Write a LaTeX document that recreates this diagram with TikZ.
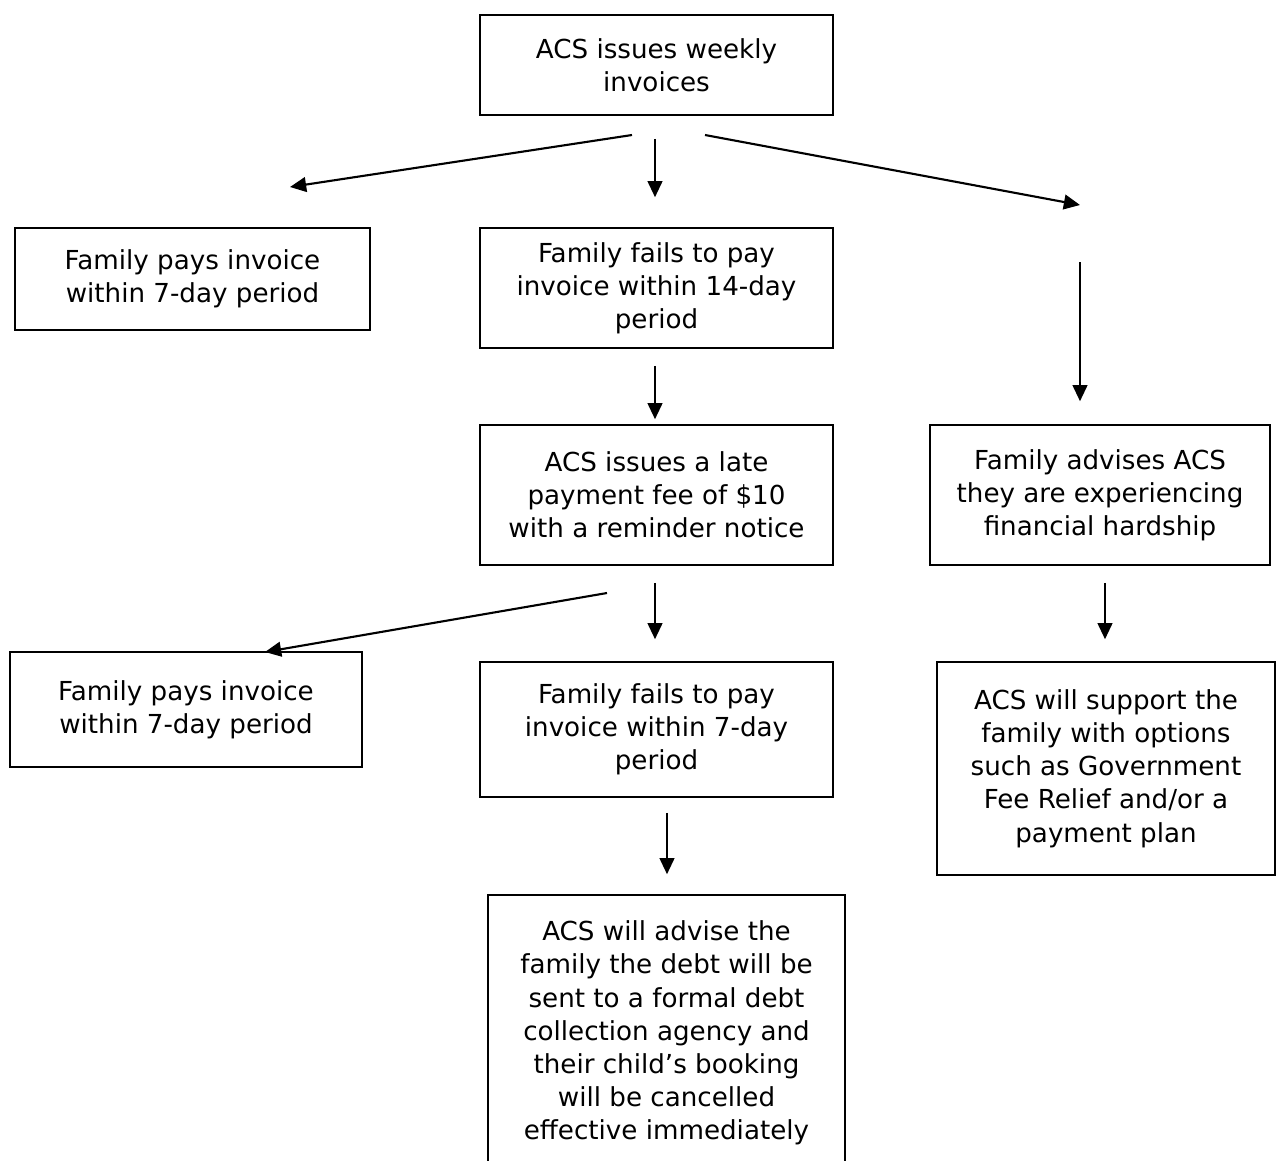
\documentclass[tikz,border=0pt]{standalone}
\usepackage{fontspec}
\setmainfont{DejaVu Sans}
\usetikzlibrary{arrows.meta,calc}

\tikzset{
    stepnode/.style={draw, line width=1.1pt, rectangle, align=center,
        inner sep=0pt, font=\fontsize{18.6}{23.6}\selectfont},
    arr/.style={line width=1.5pt, -{Triangle[length=11.5pt,width=10.5pt]}}
}

\begin{document}
\begin{tikzpicture}[x=0.025cm,y=-0.025cm]
\useasboundingbox (0,0) rectangle (1278,1160);

% boxes
\node[stepnode, minimum width=353*0.025cm, minimum height=100*0.025cm]
    (issue) at (656.5,65) {ACS issues weekly\\invoices};
\node[stepnode, minimum width=355*0.025cm, minimum height=102*0.025cm]
    (paysA) at (192.5,279) {Family pays invoice\\within 7-day period};
\node[stepnode, minimum width=353*0.025cm, minimum height=120*0.025cm]
    (failsA) at (656.5,288) {Family fails to pay\\invoice within 14-day\\period};
\node[stepnode, minimum width=353*0.025cm, minimum height=140*0.025cm]
    (latefee) at (656.5,495) {ACS issues a late\\payment fee of \$10\\with a reminder notice};
\node[stepnode, minimum width=340*0.025cm, minimum height=140*0.025cm]
    (hardship) at (1100,495) {Family advises ACS\\they are experiencing\\financial hardship};
\node[stepnode, minimum width=352*0.025cm, minimum height=115*0.025cm]
    (paysB) at (186,709.5) {Family pays invoice\\within 7-day period};
\node[stepnode, minimum width=353*0.025cm, minimum height=135*0.025cm]
    (failsB) at (656.5,729.5) {Family fails to pay\\invoice within 7-day\\period};
\node[stepnode, minimum width=338*0.025cm, minimum height=213*0.025cm]
    (support) at (1106,768.5) {ACS will support the\\family with options\\such as Government\\Fee Relief and/or a\\payment plan};
\node[stepnode, minimum width=357*0.025cm, minimum height=276*0.025cm]
    (debt) at (666.5,1033) {ACS will advise the\\family the debt will be\\sent to a formal debt\\collection agency and\\their child’s booking\\will be cancelled\\effective immediately};

% free ends of the arrows
\coordinate (issueL) at (632,135);
\coordinate (issueR) at (705,135);
\coordinate (toPays) at (290,187);
\coordinate (toRight) at (1080,205);
\coordinate (rightTop) at (1080,262);
\coordinate (lateL) at (607,593);
\coordinate (toPaysB) at (265,652);

% arrows
\draw[arr] (issueL) -- (toPays);
\draw[arr] ($(issue.south)+(-1.5,23)$) -- ($(failsA.north)+(-1.5,-30)$);
\draw[arr] (issueR) -- (toRight);
\draw[arr] (rightTop) -- ($(hardship.north)+(-20,-23)$);
\draw[arr] ($(failsA.south)+(-1.5,17)$) -- ($(latefee.north)+(-1.5,-5)$);
\draw[arr] (lateL) -- (toPaysB);
\draw[arr] ($(latefee.south)+(-1.5,17)$) -- ($(failsB.north)+(-1.5,-22)$);
\draw[arr] ($(hardship.south)+(5,17)$) -- ($(support.north)+(-1,-22)$);
\draw[arr] ($(failsB.south)+(10.5,15)$) -- ($(debt.north)+(0.5,-20)$);
\end{tikzpicture}
\end{document}
